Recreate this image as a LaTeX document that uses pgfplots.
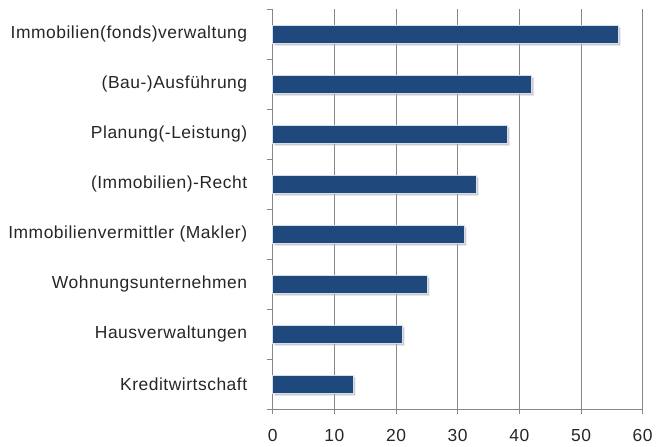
\documentclass[border=0pt]{standalone}
\usepackage{fontspec}
\setmainfont{Liberation Sans}[LetterSpace=3]
\usepackage{pgfplots}
\pgfplotsset{compat=1.18}
\usetikzlibrary{shadows}
\definecolor{barblue}{RGB}{31,73,125}
\definecolor{gridgray}{RGB}{135,135,135}

\begin{document}
\begin{tikzpicture}
\begin{axis}[
  xbar,
  scale only axis,
  width=370bp, height=400bp,
  xmin=0, xmax=60,
  ymin=-0.5, ymax=7.5,
  xtick={0,10,...,60},
  ytick={0,1,...,7},
  yticklabels={Kreditwirtschaft,Hausverwaltungen,Wohnungsunternehmen,Immobilienvermittler (Makler),(Immobilien)-Recht,Planung(-Leistung),(Bau-)Ausführung,Immobilien(fonds)verwaltung},
  minor ytick={-0.5,0.5,...,7.5},
  axis x line*=bottom,
  axis y line*=left,
  axis line style={gridgray, line width=0.8bp},
  xmajorgrids,
  grid style={gridgray, line width=0.8bp},
  tick align=outside,
  major tick length=5bp,
  minor tick length=6bp,
  major y tick style={draw=none},
  minor y tick style={draw=gridgray, line width=0.8bp},
  major x tick style={draw=gridgray, line width=0.8bp},
  /pgf/number format/assume math mode=true,
  tick label style={font=\fontsize{17.5}{21}\selectfont, text=black!85},
  xticklabel style={yshift=-12bp},
  yticklabel style={xshift=-17bp},
  bar width=18bp,
  clip=false,
]
\addplot[fill=barblue, draw={rgb,255:red,215;green,222;blue,235}, line width=0.7bp,
  drop shadow={shadow xshift=2bp, shadow yshift=-2bp, opacity=0.4}] coordinates {
  (13,0)
  (21,1)
  (25,2)
  (31,3)
  (33,4)
  (38,5)
  (42,6)
  (56,7)
};
\end{axis}
\pgfresetboundingbox
\path ([shift={(-272.7bp,-37bp)}]current axis.south west) rectangle ([shift={(15.3bp,9.3bp)}]current axis.north east);
\end{tikzpicture}
\end{document}
